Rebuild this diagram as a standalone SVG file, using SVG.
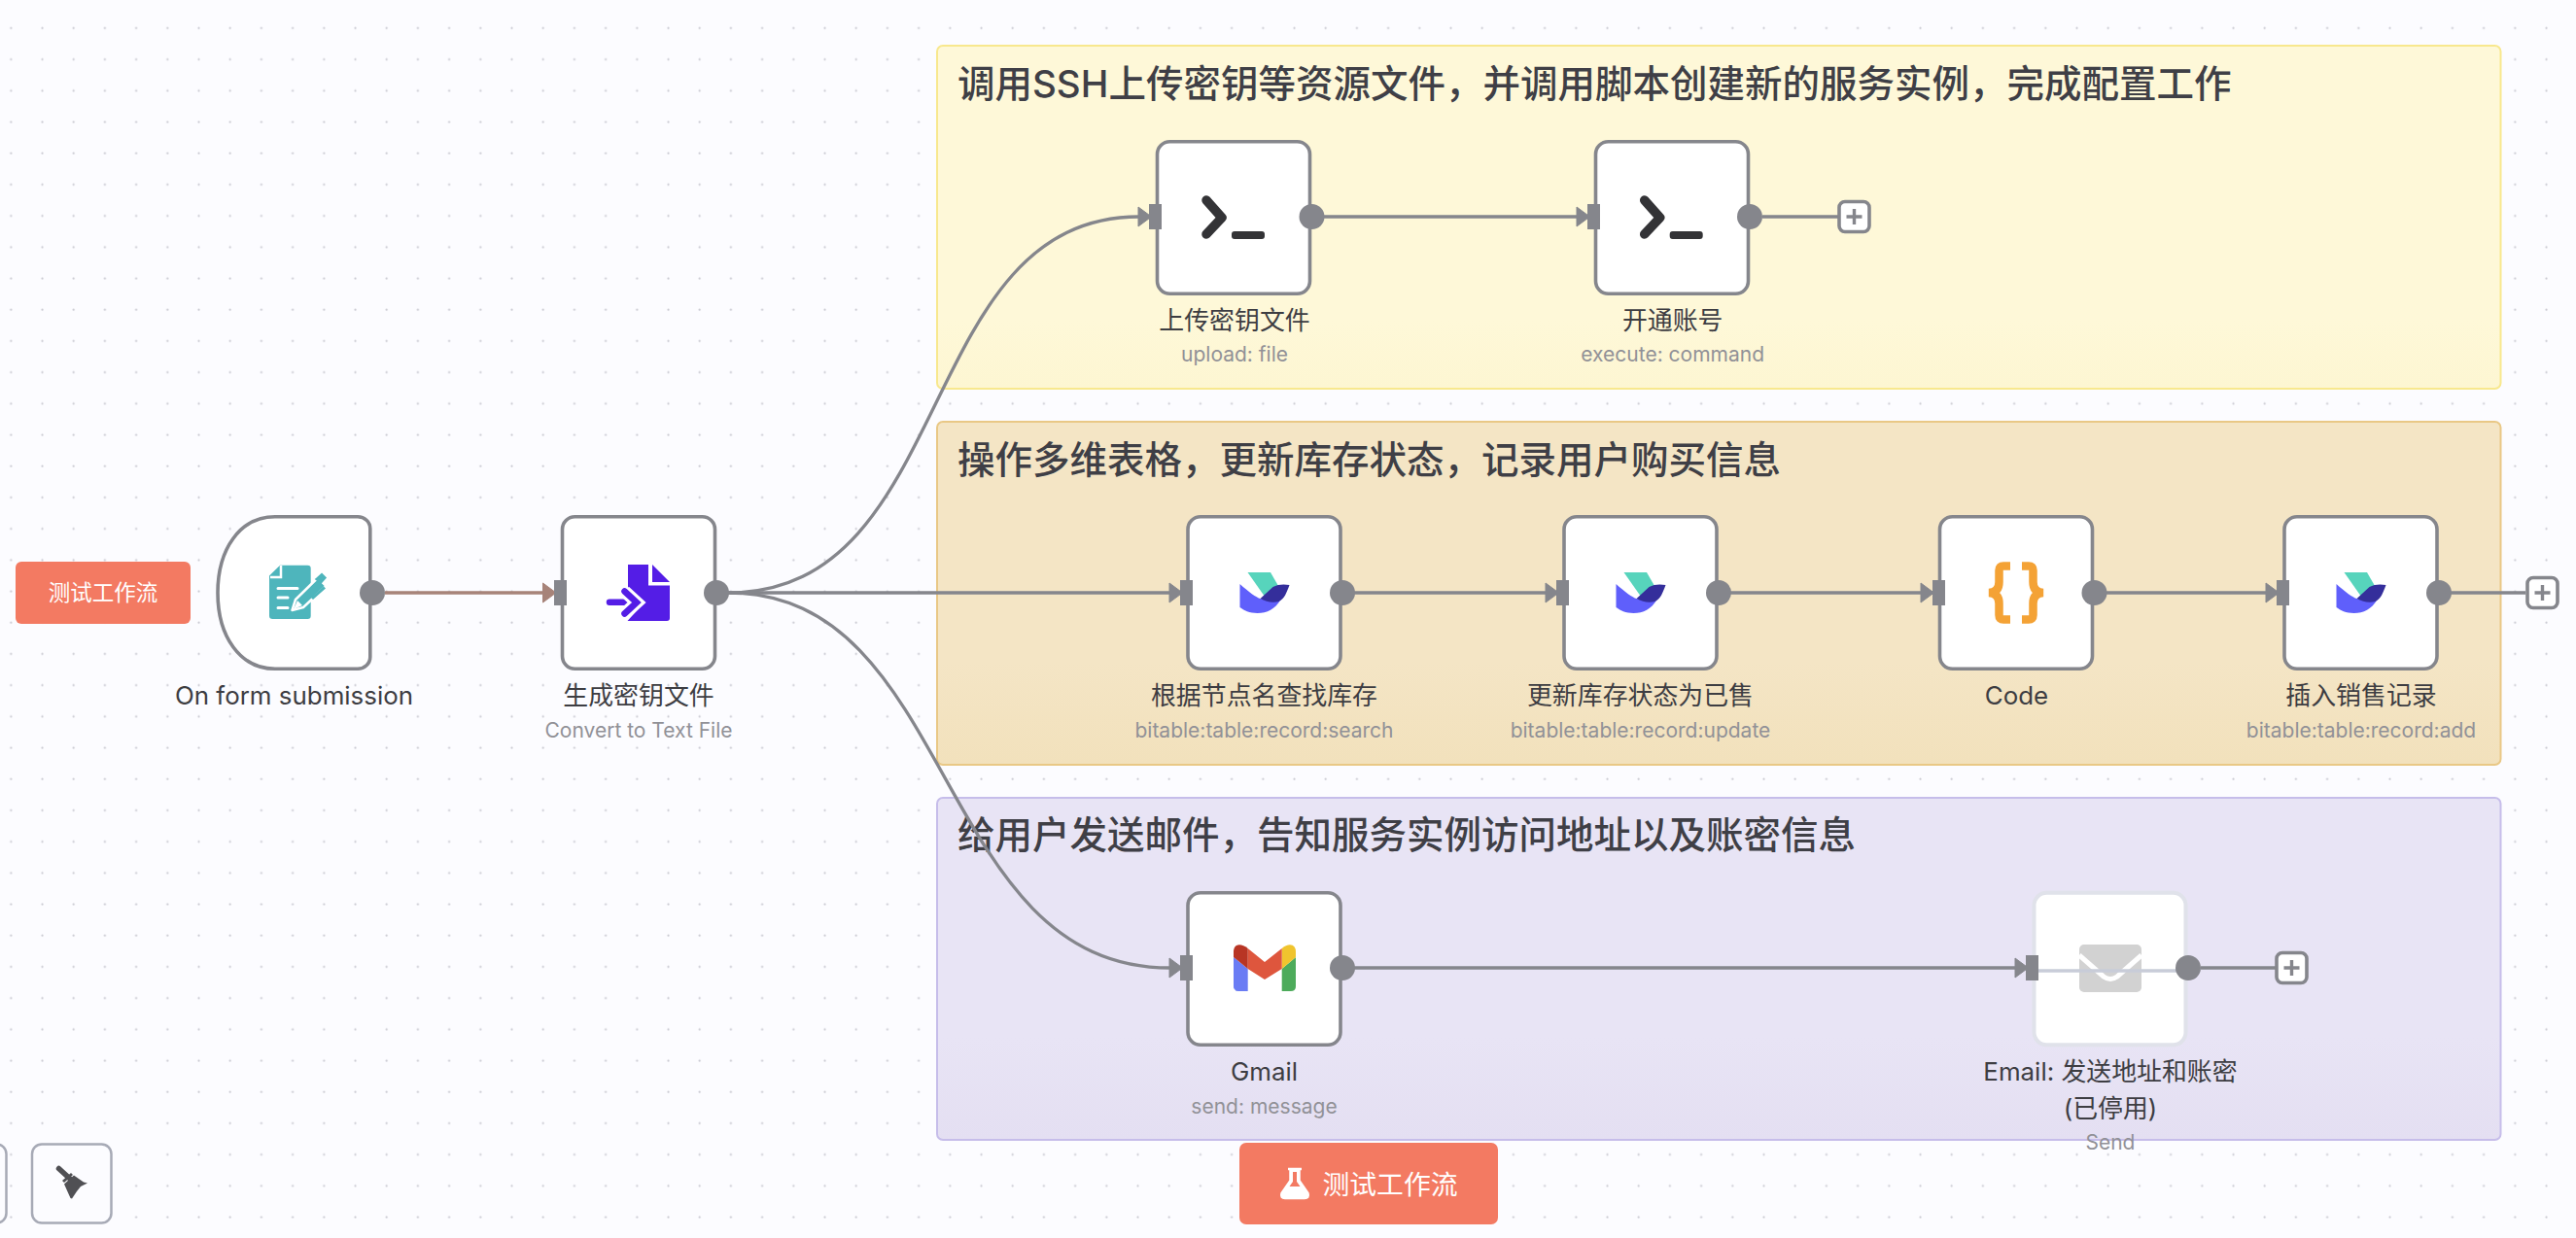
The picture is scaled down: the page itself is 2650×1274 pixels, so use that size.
<svg xmlns="http://www.w3.org/2000/svg" width="2650" height="1274" viewBox="0 0 2650 1274">
<style>
text{font-family:Inter,"Noto Sans CJK SC",sans-serif;text-anchor:middle}
.lab{font-size:25.9px;fill:#3d3d42}
.sub{font-size:21px;fill:#919197}
.title{font-size:38.5px;font-weight:500;fill:#3f3f46;text-anchor:start}
.btn{font-size:22.5px;fill:#fff}
.box{fill:#fff;stroke:#85868c;stroke-width:3.6}
.port{fill:#85868c}
.edge{fill:none;stroke:#85868c;stroke-width:3.3;marker-end:url(#arr)}
.stub{fill:none;stroke:#85868c;stroke-width:3.3}
.plus{fill:#fff;stroke:#85868c;stroke-width:3.6}
.plusm{stroke:#85868c;stroke-width:3.4;fill:none}
</style>
<defs>
<pattern id="dots" patternUnits="userSpaceOnUse" width="32.2" height="32.2"><circle cx="11.3" cy="29" r="1.1" fill="#c8c8d0"/></pattern>
<linearGradient id="gy" x1="0" y1="0" x2="0" y2="1"><stop offset="0.8" stop-color="#fef8d8"/><stop offset="1" stop-color="#fdf6d2"/></linearGradient>
<linearGradient id="go" x1="0" y1="0" x2="0" y2="1"><stop offset="0.7" stop-color="#f4e5c5"/><stop offset="1" stop-color="#f2e1bc"/></linearGradient>
<linearGradient id="gp" x1="0" y1="0" x2="0" y2="1"><stop offset="0.7" stop-color="#e8e4f5"/><stop offset="1" stop-color="#e4dff2"/></linearGradient>
<marker id="arr" markerUnits="userSpaceOnUse" markerWidth="16" markerHeight="24" refX="2" refY="12" orient="auto"><path d="M1 2L14.500 12L1 22Z" fill="#85868c" stroke="#85868c" stroke-linejoin="round"/></marker>
<marker id="arrb" markerUnits="userSpaceOnUse" markerWidth="16" markerHeight="24" refX="2" refY="12" orient="auto"><path d="M1 2L14.500 12L1 22Z" fill="#a78379" stroke="#a78379" stroke-linejoin="round"/></marker>
<g id="bird">
<path d="M-17 -21H6.500L14 -8L16 -3L2 6Z" fill="#57d4bc"/>
<path d="M-25 -9C-16 -1 -8 5 -4 6C5 8 12 9 17 7C11 17 3 21 -7 21C-15 21 -21 18 -25 15Z" fill="#5f5ffb"/>
<path d="M-4 6L9 -6C14 -9 21 -9 26 -8C23 0 21 6 15 9C8 11 2 9 -4 6Z" fill="#342e9b"/>
</g>
<g id="term">
<path d="M-29 -17L-13 1L-29 18" fill="none" stroke="#333336" stroke-width="9.500" stroke-linejoin="round" stroke-linecap="round"/>
<rect x="-3" y="15" width="34" height="8" rx="3" fill="#333336"/>
</g>
</defs>
<rect width="2650" height="1274" fill="#fcfcff"/>
<rect width="2650" height="1274" fill="url(#dots)"/>
<g id="group-ssh"><rect x="964" y="47" width="1608.500" height="353" rx="6" fill="url(#gy)" stroke="#f8e88e" stroke-width="2"/><text class="title" x="985" y="100">调用SSH上传密钥等资源文件，并调用脚本创建新的服务实例，完成配置工作</text></g>
<g id="group-table"><rect x="964" y="434" width="1608.500" height="353" rx="6" fill="url(#go)" stroke="#e9c886" stroke-width="2"/><text class="title" x="985" y="487">操作多维表格，更新库存状态，记录用户购买信息</text></g>
<g id="group-mail"><rect x="964" y="821" width="1608.500" height="352" rx="6" fill="url(#gp)" stroke="#c6bdea" stroke-width="2"/><text class="title" x="985" y="873">给用户发送邮件，告知服务实例访问地址以及账密信息</text></g>
<g id="connectors">
<path d="M396 610H559.500" fill="none" stroke="#a78379" stroke-width="3.300" marker-end="url(#arrb)"/>
<path class="edge" d="M749 610C985 610 940 223 1172 223"/>
<path class="edge" d="M749 610H1204"/>
<path class="edge" d="M749 610C985 610 960 996 1204 996"/>
<path class="edge" d="M1362 223H1623"/>
<path class="stub" d="M1813 223H1891"/>
<path class="edge" d="M1393 610H1591"/>
<path class="edge" d="M1780 610H1977"/>
<path class="edge" d="M2167 610H2332"/>
<path class="stub" d="M2521 610H2598"/>
<path class="edge" d="M1393 996H2074"/>
<path class="stub" d="M2264 996H2341"/>
</g>
<g id="btn-top"><rect x="16" y="578" width="180" height="64" rx="6" fill="#f37a62"/><text class="btn" x="106" y="618">测试工作流</text></g>
<g id="node-form">
<path class="box" d="M368 531.700H283C247 531.700 224 565 224 610C224 655 247 688.300 283 688.300H368C375 688.300 380.800 683 380.800 676V544C380.800 537 375 531.700 368 531.700Z"/>
<path d="M288 581.700H316.500Q319.700 581.700 319.700 585V633.800Q319.700 637 316.500 637H280.500Q277 637 277 633.800V592.500Z" fill="#4eb5bc"/>
<path d="M289 582V594H278" fill="none" stroke="#fff" stroke-width="2.500"/>
<path d="M286 605.500H306M286 615H296M286 625.500H296" stroke="#fff" stroke-width="3" stroke-linecap="round" fill="none"/>
<path d="M300.500 628L304 617L327 594.500L335.500 603L312 625Z" fill="#4eb5bc" stroke="#fff" stroke-width="2.500" stroke-linejoin="round"/>
<path d="M302 627L306 618L311 623Z" fill="#fff"/>
<path d="M326 596L331 591.500L334 594.500L330 599ZM321 616L334 604.500" stroke="#4eb5bc" stroke-width="3" fill="#4eb5bc"/>
<circle class="port" cx="383" cy="610" r="13"/>
<text class="lab" x="302.500" y="725">On form submission</text>
</g>
<g id="node-file">
<rect class="box" x="578.500" y="531.700" width="157" height="156.600" rx="13"/>
<path d="M646 581H667V602.500H689V636Q689 639 686 639H645.500L660 623L646 607Z" fill="#541de6"/>
<path d="M671 581L689 599H671Z" fill="#541de6"/>
<path d="M627 619.700H656" stroke="#541de6" stroke-width="6.500" stroke-linecap="round"/>
<path d="M642.500 608.500L655 620L642.500 631.500" fill="none" stroke="#fff" stroke-width="13" stroke-linecap="butt"/>
<path d="M642.500 608.500L655 620L642.500 631.500" fill="none" stroke="#541de6" stroke-width="6.500" stroke-linecap="round"/>
<rect class="port" x="570" y="597" width="13" height="26"/>
<circle class="port" cx="737" cy="610" r="13"/>
<text class="lab" x="657" y="725">生成密钥文件</text><text class="sub" x="657" y="759">Convert to Text File</text>
</g>
<g id="node-upload">
<rect class="box" x="1190.500" y="145.700" width="157" height="156.600" rx="13"/><use href="#term" x="1270" y="223"/>
<rect class="port" x="1182" y="210" width="13" height="26"/><circle class="port" cx="1349.500" cy="223" r="13"/>
<text class="lab" x="1270" y="339">上传密钥文件</text><text class="sub" x="1270" y="372">upload: file</text>
</g>
<g id="node-exec">
<rect class="box" x="1641.500" y="145.700" width="157" height="156.600" rx="13"/><use href="#term" x="1720.700" y="223"/>
<rect class="port" x="1633" y="210" width="13" height="26"/><circle class="port" cx="1800" cy="223" r="13"/>
<text class="lab" x="1720.700" y="339">开通账号</text><text class="sub" x="1720.700" y="372">execute: command</text>
<rect class="plus" x="1892" y="207.500" width="31" height="31" rx="6"/><path class="plusm" d="M1907.500 215V231M1899.500 223H1915.500"/>
</g>
<g id="node-search">
<rect class="box" x="1222" y="531.700" width="157" height="156.600" rx="13"/><use href="#bird" x="1300.500" y="610"/>
<rect class="port" x="1214" y="597" width="13" height="26"/><circle class="port" cx="1381" cy="610" r="13"/>
<text class="lab" x="1300.500" y="725">根据节点名查找库存</text><text class="sub" x="1300.500" y="759">bitable:table:record:search</text>
</g>
<g id="node-update">
<rect class="box" x="1609" y="531.700" width="157" height="156.600" rx="13"/><use href="#bird" x="1687.500" y="610"/>
<rect class="port" x="1601" y="597" width="13" height="26"/><circle class="port" cx="1768" cy="610" r="13"/>
<text class="lab" x="1687.500" y="725">更新库存状态为已售</text><text class="sub" x="1687.500" y="759">bitable:table:record:update</text>
</g>
<g id="node-code">
<rect class="box" x="1995.500" y="531.700" width="157" height="156.600" rx="13"/>
<path d="M2068 582.500H2061Q2056.500 582.500 2056.500 587V599Q2056.500 609.500 2046 610Q2056.500 610.500 2056.500 621V633Q2056.500 637.500 2061 637.500H2068M2080 582.500H2087Q2091.500 582.500 2091.500 587V599Q2091.500 609.500 2102 610Q2091.500 610.500 2091.500 621V633Q2091.500 637.500 2087 637.500H2080" fill="none" stroke="#f4a235" stroke-width="8.500"/>
<rect class="port" x="1988" y="597" width="13" height="26"/><circle class="port" cx="2154.500" cy="610" r="13"/>
<text class="lab" x="2074.500" y="725">Code</text>
</g>
<g id="node-insert">
<rect class="box" x="2350" y="531.700" width="157" height="156.600" rx="13"/><use href="#bird" x="2428.500" y="610"/>
<rect class="port" x="2342" y="597" width="13" height="26"/><circle class="port" cx="2509" cy="610" r="13"/>
<text class="lab" x="2429" y="725">插入销售记录</text><text class="sub" x="2429" y="759">bitable:table:record:add</text>
<rect class="plus" x="2600" y="594.500" width="31" height="31" rx="6"/><path class="plusm" d="M2615.500 602V618M2607.500 610H2623.500"/>
</g>
<g id="node-gmail">
<rect class="box" x="1222" y="918.700" width="157" height="156.600" rx="13"/>
<path d="M1269 985L1283.700 997V1020H1274Q1269 1020 1269 1015Z" fill="#6a7cf4"/>
<path d="M1333 985L1318.700 997V1020H1328Q1333 1020 1333 1015Z" fill="#4dab5b"/>
<path d="M1318.700 976Q1323 972.300 1327 972.300Q1333 972.300 1333 980V985L1318.700 997Z" fill="#f0c42e"/>
<path d="M1283.700 976L1301 990L1318.700 976V997L1301 1008L1283.700 997Z" fill="#de563d"/>
<path d="M1283.700 976Q1279 972.300 1275 972.300Q1269 972.300 1269 980V985L1283.700 997Z" fill="#b83524"/>
<rect class="port" x="1214" y="983" width="13" height="26"/><circle class="port" cx="1381" cy="996" r="13"/>
<text class="lab" x="1300.500" y="1112">Gmail</text><text class="sub" x="1300.500" y="1146">send: message</text>
</g>
<g id="node-email">
<rect x="2092.500" y="918.700" width="156" height="156.600" rx="13" fill="#fff" stroke="#e0e2ea" stroke-width="4"/>
<rect x="2139" y="972" width="64" height="49" rx="5" fill="#d2d2d2"/>
<path d="M2139 983L2164 1005Q2171 1010 2178 1005L2203 983" fill="none" stroke="#fff" stroke-width="5"/>
<path d="M2097 999H2240" stroke="#c8ccd8" stroke-width="3.300"/>
<rect class="port" x="2084" y="983" width="13" height="26"/><circle class="port" cx="2251" cy="996" r="13"/>
<text class="lab" x="2171" y="1112">Email: 发送地址和账密</text><text class="lab" x="2171" y="1150">(已停用)</text><text class="sub" x="2171" y="1183">Send</text>
<rect class="plus" x="2342" y="980.500" width="31" height="31" rx="6"/><path class="plusm" d="M2357.500 988V1004M2349.500 996H2365.500"/>
</g>
<g id="btn-bottom">
<rect x="1275" y="1176" width="266" height="84" rx="7" fill="#f37a62"/>
<path d="M1325 1203H1339M1327.500 1204V1215L1318.500 1228Q1317 1233 1322 1233H1342Q1347 1233 1345.500 1228L1336.500 1215V1204Z" fill="#fff" stroke="#fff" stroke-width="2.500" stroke-linejoin="round"/>
<path d="M1330 1206V1216L1326.500 1221H1337.500L1334 1216V1206Z" fill="#f37a62"/>
<text x="1430" y="1229" style="font-size:27.800px;fill:#fff">测试工作流</text>
</g>
<g id="toolbar">
<rect x="-80" y="1177.500" width="86.500" height="81" rx="10" fill="#fcfcff" stroke="#a7aab6" stroke-width="2.500"/>
<rect x="33" y="1177.500" width="81.500" height="81" rx="10" fill="#fcfcff" stroke="#a7aab6" stroke-width="2.500"/>
<path d="M60.500 1202.500L72.500 1213.500" stroke="#505054" stroke-width="5.500" stroke-linecap="round"/>
<path d="M65 1216L74 1208" stroke="#505054" stroke-width="3"/>
<path d="M66 1218.500L76 1209.500L86 1216.500L90 1217.500L86 1219.500L83 1221L79 1226L74 1233.500L72.500 1233Z" fill="#505054"/>
</g>
</svg>
